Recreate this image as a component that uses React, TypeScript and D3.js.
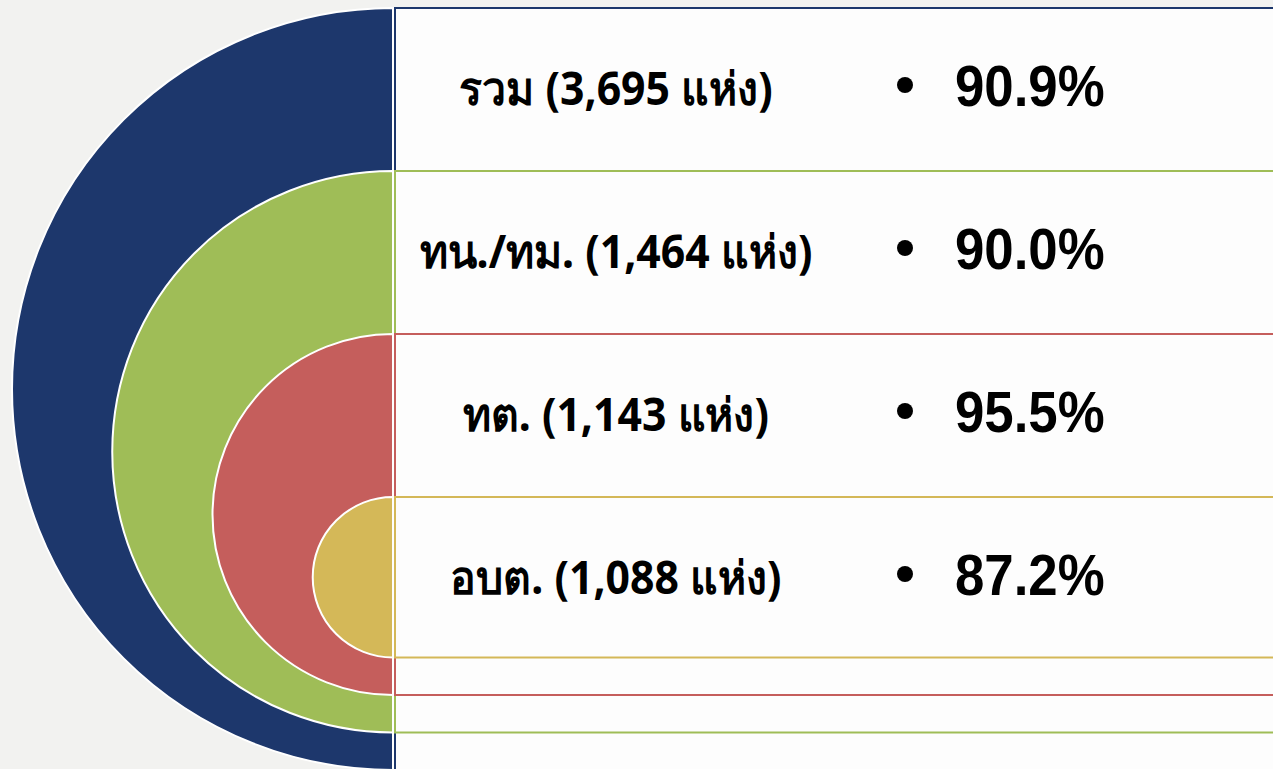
import * as d3 from 'd3';
import React from 'react';

// groups, facility counts and share (%)
const categories = ['รวม', 'ทน./ทม.', 'ทต.', 'อบต.'];
const counts = [3695, 1464, 1143, 1088];
const percents = [90.9, 90.0, 95.5, 87.2];
const colors = ['#1d376c', '#9fbd57', '#c55e5c', '#d4b858'];

const W = 1273, H = 769;

function App() {
  // each nested ring starts 163px lower and is ~100px smaller in radius
  const top = d3.scaleLinear().domain([0, 4]).range([8, 660]);
  const radius = d3.scaleLinear().domain([0, 4]).range([381, -20]);
  const cx = 393;
  const arc = d3.arc<any>().innerRadius(0).startAngle(Math.PI).endAngle(2 * Math.PI);
  const fmt = d3.format(',');

  return (
    <svg width={W} height={H} style={{position: 'absolute', left: 0, top: 0, background: '#f2f2f0'}}>
      {categories.map((c, i) => {
        const y0 = top(i);
        const r = radius(i);
        return (
          <g key={c}>
            <rect x={cx + 2} y={y0} width={W} height={2 * r} fill="#fdfdfd" stroke={colors[i]} strokeWidth={2} />
            <path d={arc({outerRadius: r}) as string} transform={`translate(${cx},${y0 + r})`}
              fill={colors[i]} stroke="#fff" strokeWidth={2} />
          </g>
        );
      })}
      {categories.map((c, i) => {
        const y0 = top(i);
        return (
          <g key={'t' + c} style={{fontWeight: 'bold', fill: '#000'}}>
            <text transform={`translate(616,${y0 + 97}) scale(0.93,1)`} textAnchor="middle"
              style={{fontFamily: '"Noto Sans", sans-serif', fontSize: 46}}>
              {`${c} (${fmt(counts[i])} แห่ง)`}
            </text>
            <circle cx={905} cy={y0 + 77} r={8} fill="#000" />
            <text transform={`translate(955,${y0 + 98}) scale(0.91,1)`}
              style={{fontFamily: '"Liberation Sans", Arial, sans-serif', fontSize: 58}}>
              {`${percents[i].toFixed(1)}%`}
            </text>
          </g>
        );
      })}
    </svg>
  );
}

export default App;
